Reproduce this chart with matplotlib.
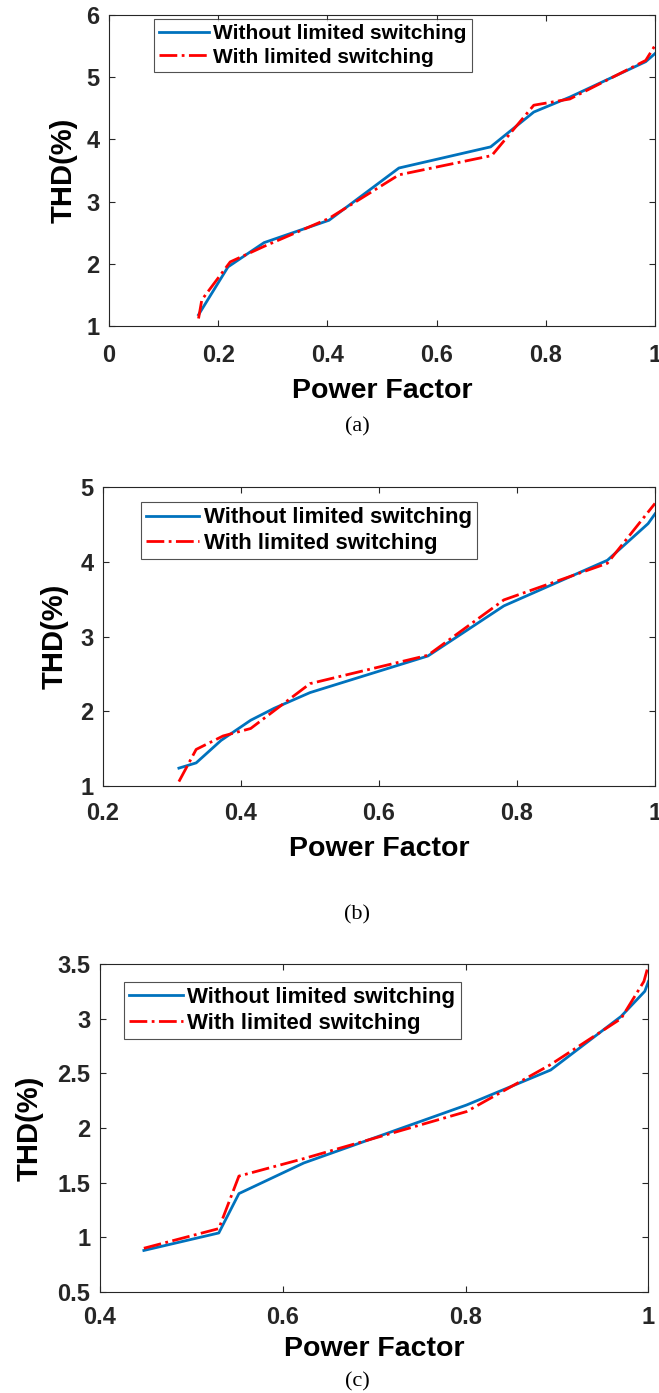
import matplotlib
matplotlib.use('Agg')
import matplotlib.pyplot as plt

plt.rcParams['font.family'] = ['Liberation Sans', 'DejaVu Sans']
plt.rcParams['font.weight'] = 'bold'

# (a)
xa_blue = [0.164, 0.218, 0.284, 0.403, 0.531, 0.699, 0.778, 0.844, 0.983, 1.0]
ya_blue = [1.18, 1.95, 2.34, 2.70, 3.54, 3.88, 4.44, 4.68, 5.25, 5.38]
xa_red = [0.164, 0.17, 0.222, 0.284, 0.403, 0.531, 0.701, 0.778, 0.844, 0.983, 1.0]
ya_red = [1.12, 1.42, 2.03, 2.28, 2.73, 3.43, 3.74, 4.55, 4.65, 5.27, 5.51]

# (b)
xb_blue = [0.310, 0.335, 0.371, 0.414, 0.448, 0.50, 0.671, 0.781, 0.931, 0.990, 1.0]
yb_blue = [1.24, 1.31, 1.61, 1.88, 2.04, 2.25, 2.74, 3.41, 4.02, 4.51, 4.64]
xb_red = [0.310, 0.335, 0.374, 0.414, 0.50, 0.671, 0.781, 0.931, 1.0]
yb_red = [1.06, 1.49, 1.67, 1.77, 2.37, 2.75, 3.49, 3.98, 4.78]

# (c)
xc_blue = [0.448, 0.530, 0.552, 0.623, 0.801, 0.893, 0.970, 0.996, 1.0]
yc_blue = [0.88, 1.04, 1.40, 1.68, 2.21, 2.53, 3.02, 3.25, 3.34]
xc_red = [0.448, 0.530, 0.552, 0.623, 0.801, 0.893, 0.970, 0.995, 1.0]
yc_red = [0.90, 1.08, 1.56, 1.72, 2.15, 2.58, 3.00, 3.34, 3.49]

panels = [
    dict(pos=[0.1654, 0.766, 0.8285, 0.2232], xb=xa_blue, yb=ya_blue, xr=xa_red, yr=ya_red,
         xlim=(0, 1), ylim=(1, 6), xt=[0, 0.2, 0.4, 0.6, 0.8, 1], xtl=['0', '0.2', '0.4', '0.6', '0.8', '1'],
         yt=[1, 2, 3, 4, 5, 6], ytl=['1', '2', '3', '4', '5', '6'],
         leg=(0.075, 1.0), legsize=15, cap='(a)', capy=0.6935, xpad=13, xlp=8, ylp=6),
    dict(pos=[0.1563, 0.4357, 0.8376, 0.2147], xb=xb_blue, yb=yb_blue, xr=xb_red, yr=yb_red,
         xlim=(0.2, 1), ylim=(1, 5), xt=[0.2, 0.4, 0.6, 0.8, 1], xtl=['0.2', '0.4', '0.6', '0.8', '1'],
         yt=[1, 2, 3, 4, 5], ytl=['1', '2', '3', '4', '5'],
         leg=(0.06, 0.965), legsize=16, cap='(b)', capy=0.3431, xpad=11.5, xlp=8, ylp=8),
    dict(pos=[0.1517, 0.0725, 0.8323, 0.2355], xb=xc_blue, yb=yc_blue, xr=xc_red, yr=yc_red,
         xlim=(0.4, 1), ylim=(0.5, 3.5), xt=[0.4, 0.6, 0.8, 1], xtl=['0.4', '0.6', '0.8', '1'],
         yt=[0.5, 1, 1.5, 2, 2.5, 3, 3.5], ytl=['0.5', '1', '1.5', '2', '2.5', '3', '3.5'],
         leg=(0.035, 0.96), legsize=16, cap='(c)', capy=0.0079, xpad=10, xlp=5, ylp=10),
]

fig = plt.figure(figsize=(6.59, 13.93), dpi=100)

for p in panels:
    ax = fig.add_axes(p['pos'])
    ax.plot(p['xb'], p['yb'], color='#0072BD', lw=2, label='Without limited switching')
    ax.plot(p['xr'], p['yr'], color='red', lw=2, ls='-.', label='With limited switching')
    ax.set_xlim(p['xlim'])
    ax.set_ylim(p['ylim'])
    ax.set_xticks(p['xt'])
    ax.set_xticklabels(p['xtl'])
    ax.set_yticks(p['yt'])
    ax.set_yticklabels(p['ytl'])
    ax.tick_params(direction='in', top=True, right=True, length=4, width=0.8,
                   labelsize=17, colors='#262626')
    ax.tick_params(axis='x', pad=p['xpad'])
    ax.tick_params(axis='y', pad=7)
    for lab in ax.get_xticklabels() + ax.get_yticklabels():
        lab.set_fontweight('bold')
    for s in ax.spines.values():
        s.set_color('#262626')
        s.set_linewidth(0.8)
    ax.set_xlabel('Power Factor', fontsize=20.5, fontweight='bold', labelpad=p['xlp'])
    ax.set_ylabel('THD(%)', fontsize=21, fontweight='bold', labelpad=p['ylp'])
    leg = ax.legend(loc='upper left', bbox_to_anchor=p['leg'],
                    prop={'weight': 'bold', 'size': p['legsize']},
                    frameon=True, fancybox=False, edgecolor='#262626',
                    handlelength=2.4, handletextpad=0.2, borderpad=0.25,
                    labelspacing=0.2, borderaxespad=0.2)
    leg.get_frame().set_linewidth(0.8)
    fig.text(0.542, p['capy'], p['cap'], ha='center', va='center',
             fontsize=16, family='Liberation Serif', fontweight='normal')

fig.savefig('out.png', dpi=100)
